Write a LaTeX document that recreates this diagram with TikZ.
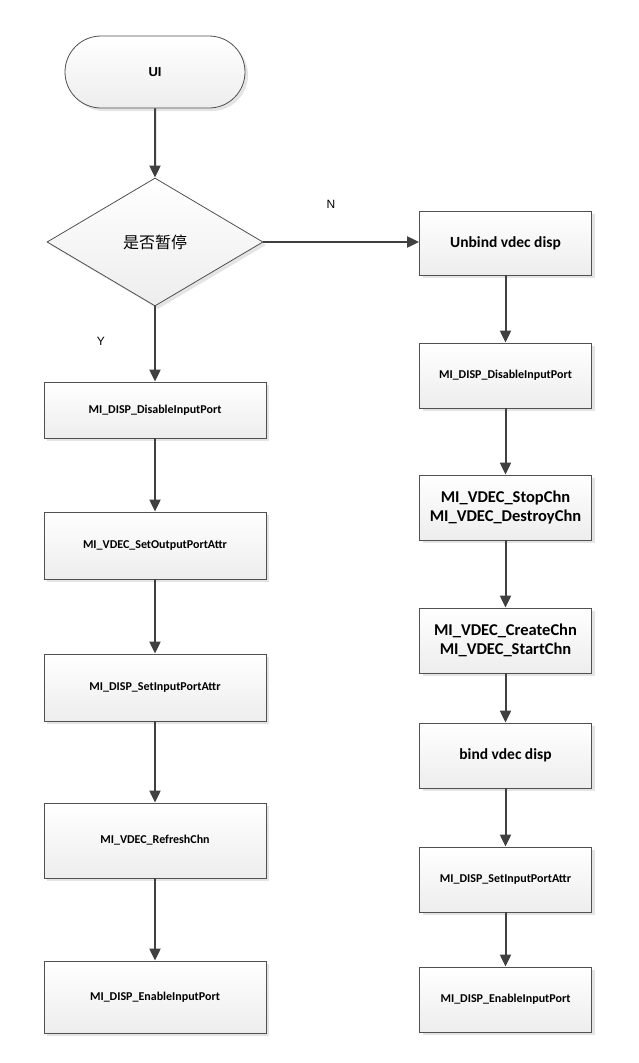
\documentclass[tikz,border=0pt]{standalone}
\usepackage{fontspec}
\setmainfont{Carlito}
\newfontfamily\arialf{Liberation Sans}
\newfontfamily\cjk{Noto Sans CJK SC}
\usetikzlibrary{shapes.geometric,shapes.misc,arrows.meta,shadows}
\definecolor{edge}{HTML}{404040}
\definecolor{bord}{HTML}{505050}
\tikzset{
  base/.style={draw=bord, line width=0.8pt, top color=white, bottom color=gray!14,
    drop shadow={shadow xshift=3pt, shadow yshift=-3pt, fill=gray!35, opacity=0.6},
    inner sep=0pt, align=center},
  procbox/.style={base, rectangle, font=\bfseries\fontsize{12}{14}\selectfont},
  bigbox/.style={base, rectangle, font=\bfseries\fontsize{16.5}{19}\selectfont},
  midbox/.style={base, rectangle, font=\bfseries\fontsize{15.5}{18}\selectfont},
  termbox/.style={base, rounded rectangle, font=\arialf\bfseries\fontsize{13}{15}\selectfont},
  decbox/.style={base, diamond, font=\cjk\fontsize{16}{18}\selectfont},
  flow/.style={draw=edge, line width=2pt, -{Triangle[length=12pt,width=11pt]}},
  lbl/.style={font=\arialf\fontsize{12}{14}\selectfont, inner sep=0pt}
}
\begin{document}
\begin{tikzpicture}[x=1pt,y=-1pt]
\useasboundingbox (0,0) rectangle (638,1063);
\node[termbox, minimum width=180pt, minimum height=72pt] (ui) at (155,72) {UI};
\node[decbox, minimum width=216pt, minimum height=128pt] (dec) at (155,242) {是否暂停};
% left column
\node[procbox, minimum width=222pt, minimum height=56pt] (l1) at (155,410) {MI\_DISP\_DisableInputPort};
\node[procbox, minimum width=222pt, minimum height=67pt] (l2) at (155,545.5) {MI\_VDEC\_SetOutputPortAttr};
\node[procbox, minimum width=222pt, minimum height=67pt] (l3) at (155,687.5) {MI\_DISP\_SetInputPortAttr};
\node[procbox, minimum width=222pt, minimum height=75pt] (l4) at (155,840.5) {MI\_VDEC\_RefreshChn};
\node[procbox, minimum width=222pt, minimum height=72pt] (l5) at (155,997) {MI\_DISP\_EnableInputPort};
% right column
\node[midbox, minimum width=172pt, minimum height=64pt] (r1) at (505.5,243) {Unbind vdec disp};
\node[procbox, minimum width=172pt, minimum height=65pt] (r2) at (505.5,375.5) {MI\_DISP\_DisableInputPort};
\node[bigbox, minimum width=172pt, minimum height=65pt] (r3) at (505.5,507.5) {MI\_VDEC\_StopChn\\MI\_VDEC\_DestroyChn};
\node[bigbox, minimum width=172pt, minimum height=65pt] (r4) at (505.5,640.5) {MI\_VDEC\_CreateChn\\MI\_VDEC\_StartChn};
\node[midbox, minimum width=172pt, minimum height=65pt] (r5) at (505.5,755.5) {bind vdec disp};
\node[procbox, minimum width=172pt, minimum height=65pt] (r6) at (505.5,879.5) {MI\_DISP\_SetInputPortAttr};
\node[procbox, minimum width=172pt, minimum height=65pt] (r7) at (505.5,999.5) {MI\_DISP\_EnableInputPort};
% labels
\node[lbl] (n) at (331,204) {N};
\node[lbl] (y) at (101,341) {Y};
% connectors
\draw[flow] (ui) -- (dec);
\draw[flow] (dec.south) -- (l1);
\draw[flow] (l1) -- (l2);
\draw[flow] (l2) -- (l3);
\draw[flow] (l3) -- (l4);
\draw[flow] (l4) -- (l5);
\draw[flow] (dec.east) -- (r1.west |- dec.east);
\draw[flow] (r1) -- (r2);
\draw[flow] (r2) -- (r3);
\draw[flow] (r3) -- (r4);
\draw[flow] (r4) -- (r5);
\draw[flow] (r5) -- (r6);
\draw[flow] (r6) -- (r7);
\end{tikzpicture}
\end{document}
